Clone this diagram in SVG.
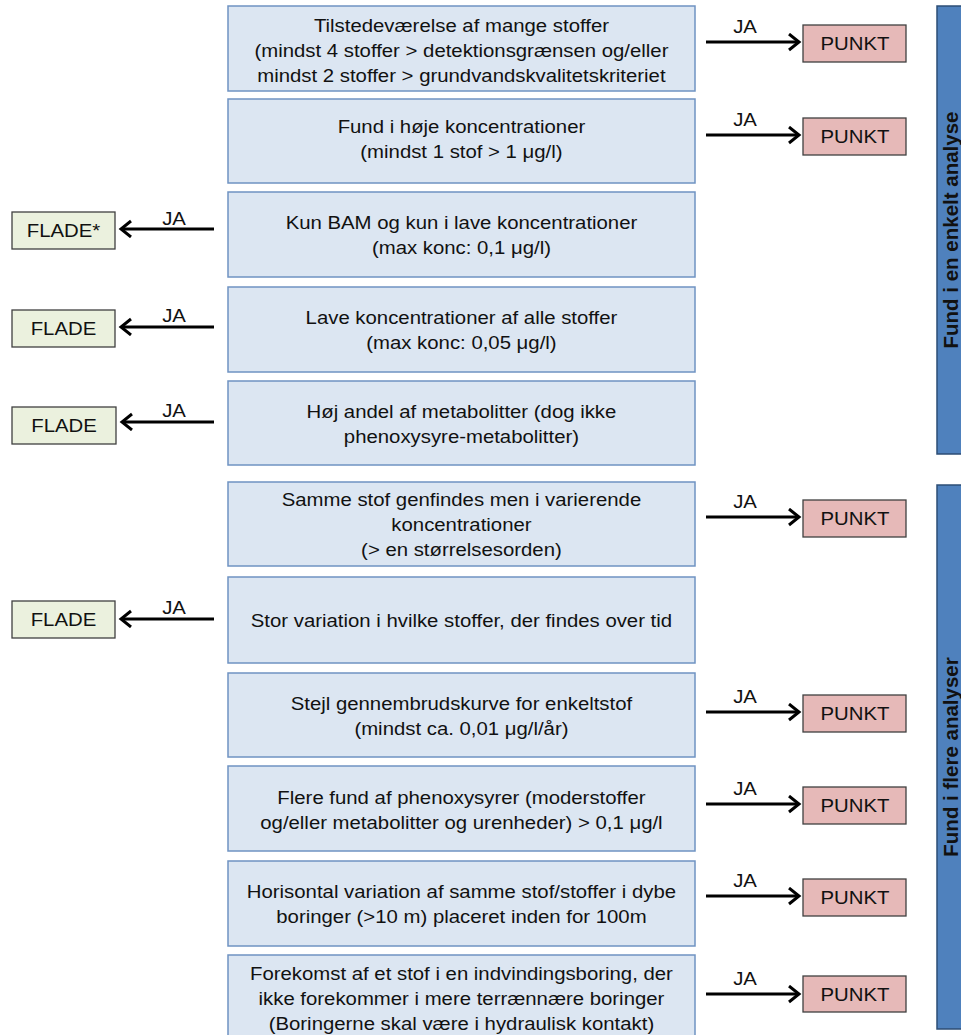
<svg xmlns="http://www.w3.org/2000/svg" width="961" height="1035" viewBox="0 0 961 1035">
<style>
.box{fill:#dce6f2;stroke:#6f93c2;stroke-width:1.5}
.punkt{fill:#e6b9b8;stroke:#404040;stroke-width:1.3}
.flade{fill:#ebf1de;stroke:#404040;stroke-width:1.3}
.bar{fill:#4f81bd;stroke:#2c4d75;stroke-width:1.5}
text{font-family:"Liberation Sans",Arial,sans-serif;font-size:18.5px;fill:#111;text-anchor:middle}
.bt{font-weight:bold;font-size:20.5px}
.con line{stroke:#000;stroke-width:3}
</style>
<defs>
<marker id="ah" markerUnits="userSpaceOnUse" markerWidth="16" markerHeight="20" refX="12" refY="9" orient="auto">
<path d="M2,1 L12,9 L2,17" fill="none" stroke="#000" stroke-width="3"/>
</marker>
</defs>

<g id="bar1"><rect class="bar" x="937" y="6" width="30" height="448"/><text class="bt" x="958" y="230" transform="rotate(-90 958 230)">Fund i en enkelt analyse</text></g>
<g id="bar2"><rect class="bar" x="937" y="485" width="30" height="544"/><text class="bt" x="958" y="757" transform="rotate(-90 958 757)">Fund i flere analyser</text></g>

<g id="b1"><rect class="box" x="228" y="6" width="467" height="85"/><g transform="scale(1.1 1)"><text x="419.5" y="32">Tilstedeværelse af mange stoffer</text><text x="419.5" y="57">(mindst 4 stoffer &gt; detektionsgrænsen og/eller</text><text x="419.5" y="82">mindst 2 stoffer &gt; grundvandskvalitetskriteriet</text></g></g>
<g id="b2"><rect class="box" x="228" y="99" width="467" height="84"/><g transform="scale(1.1 1)"><text x="419.5" y="133">Fund i høje koncentrationer</text><text x="419.5" y="158">(mindst 1 stof &gt; 1 μg/l)</text></g></g>
<g id="b3"><rect class="box" x="228" y="192" width="467" height="85"/><g transform="scale(1.1 1)"><text x="419.5" y="229">Kun BAM og kun i lave koncentrationer</text><text x="419.5" y="254">(max konc: 0,1 μg/l)</text></g></g>
<g id="b4"><rect class="box" x="228" y="287" width="467" height="85"/><g transform="scale(1.1 1)"><text x="419.5" y="324">Lave koncentrationer af alle stoffer</text><text x="419.5" y="349">(max konc: 0,05 μg/l)</text></g></g>
<g id="b5"><rect class="box" x="228" y="381" width="467" height="84"/><g transform="scale(1.1 1)"><text x="419.5" y="418">Høj andel af metabolitter (dog ikke</text><text x="419.5" y="443">phenoxysyre-metabolitter)</text></g></g>
<g id="b6"><rect class="box" x="228" y="482" width="467" height="84"/><g transform="scale(1.1 1)"><text x="419.5" y="506">Samme stof genfindes men i varierende</text><text x="419.5" y="531">koncentrationer</text><text x="419.5" y="556">(&gt; en størrelsesorden)</text></g></g>
<g id="b7"><rect class="box" x="228" y="577" width="467" height="86"/><g transform="scale(1.1 1)"><text x="419.5" y="627">Stor variation i hvilke stoffer, der findes over tid</text></g></g>
<g id="b8"><rect class="box" x="228" y="673" width="467" height="84"/><g transform="scale(1.1 1)"><text x="419.5" y="710">Stejl gennembrudskurve for enkeltstof</text><text x="419.5" y="735">(mindst ca. 0,01 μg/l/år)</text></g></g>
<g id="b9"><rect class="box" x="228" y="766" width="467" height="85"/><g transform="scale(1.1 1)"><text x="419.5" y="804">Flere fund af phenoxysyrer (moderstoffer</text><text x="419.5" y="829">og/eller metabolitter og urenheder) &gt; 0,1 μg/l</text></g></g>
<g id="b10"><rect class="box" x="228" y="861" width="467" height="85"/><g transform="scale(1.1 1)"><text x="419.5" y="898">Horisontal variation af samme stof/stoffer i dybe</text><text x="419.5" y="923">boringer (&gt;10 m) placeret inden for 100m</text></g></g>
<g id="b11"><rect class="box" x="228" y="955" width="467" height="85"/><g transform="scale(1.1 1)"><text x="419.5" y="980">Forekomst af et stof i en indvindingsboring, der</text><text x="419.5" y="1005">ikke forekommer i mere terrænnære boringer</text><text x="419.5" y="1030">(Boringerne skal være i hydraulisk kontakt)</text></g></g>

<g id="p1"><rect class="punkt" x="803" y="25" width="103" height="37"/><text x="777.3" y="50" transform="scale(1.1 1)">PUNKT</text></g>
<g id="p2"><rect class="punkt" x="803" y="118" width="103" height="37"/><text x="777.3" y="143" transform="scale(1.1 1)">PUNKT</text></g>
<g id="p6"><rect class="punkt" x="803" y="500" width="103" height="37"/><text x="777.3" y="525" transform="scale(1.1 1)">PUNKT</text></g>
<g id="p8"><rect class="punkt" x="803" y="695" width="103" height="37"/><text x="777.3" y="720" transform="scale(1.1 1)">PUNKT</text></g>
<g id="p9"><rect class="punkt" x="803" y="787" width="103" height="37"/><text x="777.3" y="812" transform="scale(1.1 1)">PUNKT</text></g>
<g id="p10"><rect class="punkt" x="803" y="879" width="103" height="37"/><text x="777.3" y="904" transform="scale(1.1 1)">PUNKT</text></g>
<g id="p11"><rect class="punkt" x="803" y="976" width="103" height="36"/><text x="777.3" y="1001" transform="scale(1.1 1)">PUNKT</text></g>

<g id="f3"><rect class="flade" x="12" y="212" width="103" height="37"/><text x="57.7" y="237" transform="scale(1.1 1)">FLADE*</text></g>
<g id="f4"><rect class="flade" x="12" y="310" width="103" height="37"/><text x="57.7" y="335" transform="scale(1.1 1)">FLADE</text></g>
<g id="f5"><rect class="flade" x="12" y="407" width="104" height="37"/><text x="58.2" y="432" transform="scale(1.1 1)">FLADE</text></g>
<g id="f7"><rect class="flade" x="12" y="601" width="103" height="37"/><text x="57.7" y="626" transform="scale(1.1 1)">FLADE</text></g>

<g id="connectors" class="con">
<line x1="706" y1="42" x2="799" y2="42" marker-end="url(#ah)"/>
<line x1="706" y1="135" x2="799" y2="135" marker-end="url(#ah)"/>
<line x1="706" y1="517" x2="799" y2="517" marker-end="url(#ah)"/>
<line x1="706" y1="712" x2="799" y2="712" marker-end="url(#ah)"/>
<line x1="706" y1="804" x2="799" y2="804" marker-end="url(#ah)"/>
<line x1="706" y1="896" x2="799" y2="896" marker-end="url(#ah)"/>
<line x1="706" y1="994" x2="799" y2="994" marker-end="url(#ah)"/>
<line x1="214" y1="229" x2="121" y2="229" marker-end="url(#ah)"/>
<line x1="214" y1="327" x2="121" y2="327" marker-end="url(#ah)"/>
<line x1="214" y1="422" x2="122" y2="422" marker-end="url(#ah)"/>
<line x1="214" y1="619" x2="121" y2="619" marker-end="url(#ah)"/>
<g transform="scale(1.1 1)">
<text x="677.3" y="33">JA</text>
<text x="677.3" y="126">JA</text>
<text x="677.3" y="508">JA</text>
<text x="677.3" y="703">JA</text>
<text x="677.3" y="795">JA</text>
<text x="677.3" y="887">JA</text>
<text x="677.3" y="985">JA</text>
<text x="158.2" y="225">JA</text>
<text x="158.2" y="322">JA</text>
<text x="158.2" y="417">JA</text>
<text x="158.2" y="614">JA</text>
</g>
</g>
</svg>
